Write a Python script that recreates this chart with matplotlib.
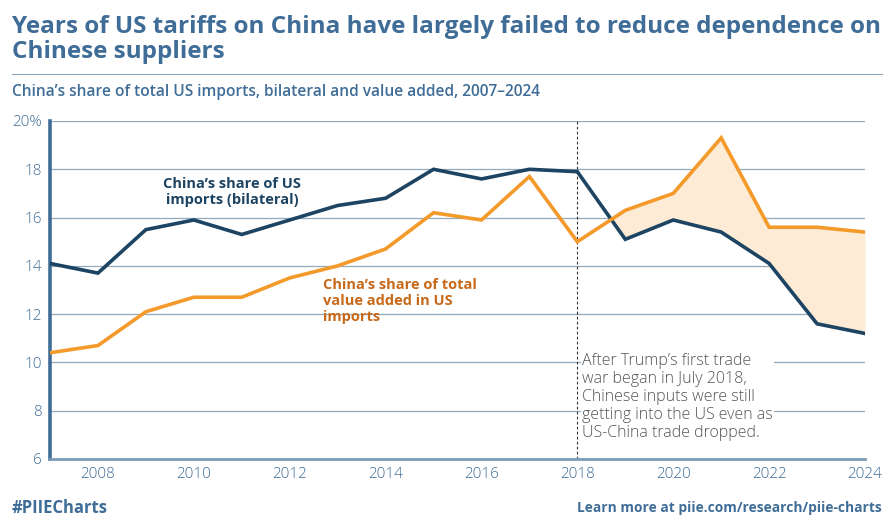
import matplotlib
matplotlib.use("Agg")
import matplotlib.pyplot as plt
import numpy as np

years = np.arange(2007, 2025)
bilateral = [14.1, 13.7, 15.5, 15.9, 15.3, 15.9, 16.5, 16.8, 18.0, 17.6, 18.0, 17.9,
             15.1, 15.9, 15.4, 14.1, 11.6, 11.2]
value_added = [10.4, 10.7, 12.1, 12.7, 12.7, 13.5, 14.0, 14.7, 16.2, 15.9, 17.7, 15.0,
               16.3, 17.0, 19.3, 15.6, 15.6, 15.4]
y_ticks = [6, 8, 10, 12, 14, 16, 18, 20]
y_labels = ["6", "8", "10", "12", "14", "16", "18", "20%"]
x_ticks = [2008, 2010, 2012, 2014, 2016, 2018, 2020, 2022, 2024]
war_year = 2018

NAVY = "#1d4462"
ORANGE = "#f39a2a"
ORANGE_TXT = "#c8691a"
STEEL = "#3f6d97"
GRID = "#93a9bc"
FILL = "#fdebd5"

plt.rcParams["font.family"] = ["Open Sans", "DejaVu Sans"]

fig = plt.figure(figsize=(8.95, 5.23), dpi=100)
ax = fig.add_axes([50 / 895, 64 / 523, 815 / 895, 338 / 523])

yrs = np.array(years, dtype=float)
b = np.array(bilateral)
v = np.array(value_added)
after = yrs >= war_year
ax.fill_between(yrs[after], b[after], v[after], where=v[after] >= b[after],
                interpolate=True, color=FILL, lw=0, zorder=1)

ax.plot(yrs, b, color=NAVY, lw=2.6, zorder=3, solid_joinstyle="miter")
ax.plot(yrs, v, color=ORANGE, lw=2.6, zorder=3, solid_joinstyle="miter")

ax.axvline(war_year, color="#333333", lw=0.8, ls=(0, (2.5, 2)), zorder=2)

ax.set_xlim(2007, 2024)
ax.set_ylim(6, 20)
ax.set_yticks(y_ticks)
ax.set_yticklabels(y_labels)
ax.set_xticks(x_ticks)
ax.grid(axis="y", color=GRID, lw=0.9, zorder=0)
ax.set_axisbelow(True)
for s in ["top", "right"]:
    ax.spines[s].set_visible(False)
ax.spines["left"].set_color(STEEL)
ax.spines["left"].set_linewidth(2.6)
ax.spines["bottom"].set_color("#7d9cb8")
ax.spines["bottom"].set_linewidth(2.0)
ax.tick_params(axis="both", length=0, colors=STEEL, labelsize=11, pad=6)
for lab in ax.get_xticklabels() + ax.get_yticklabels():
    lab.set_fontweight("light")

ax.text(2010.8, 17.05, "China\u2019s share of US\nimports (bilateral)", ha="center",
        va="center", color=NAVY, fontsize=10.5, fontweight="bold", linespacing=1.2)
ax.text(2012.7, 12.55, "China\u2019s share of total\nvalue added in US\nimports", ha="left",
        va="center", color=ORANGE_TXT, fontsize=10.5, fontweight="bold", linespacing=1.2)

ax.text(2018.1, 8.57, "After Trump\u2019s first trade\nwar began in July 2018,\nChinese inputs were still\n"
        "getting into the US even as\nUS-China trade dropped.", ha="left", va="center",
        color="#555555", fontsize=11.5, fontweight="light", linespacing=1.15, zorder=4,
        bbox=dict(facecolor="white", edgecolor="none", pad=1))

fig.text(12 / 895, 1 - 27 / 523, "Years of US tariffs on China have largely failed to reduce dependence on",
         ha="left", va="center", color=STEEL, fontsize=17.5, fontweight="bold")
fig.text(12 / 895, 1 - 52 / 523, "Chinese suppliers",
         ha="left", va="center", color=STEEL, fontsize=17.5, fontweight="bold")
fig.add_artist(plt.Line2D([12 / 895, 882 / 895], [1 - 74 / 523, 1 - 74 / 523],
                          color="#8aa3b8", lw=0.8))
fig.text(12 / 895, 1 - 92 / 523, "China\u2019s share of total US imports, bilateral and value added, 2007\u20132024",
         ha="left", va="center", color=STEEL, fontsize=11.2, fontweight="semibold")
fig.text(12 / 895, 1 - 508 / 523, "#PIIECharts", ha="left", va="center", color=STEEL,
         fontsize=12, fontweight="bold")
fig.text(882 / 895, 1 - 508 / 523, "Learn more at piie.com/research/piie-charts", ha="right",
         va="center", color=STEEL, fontsize=9.9, fontweight="bold")

fig.savefig("out.png", dpi=100)
